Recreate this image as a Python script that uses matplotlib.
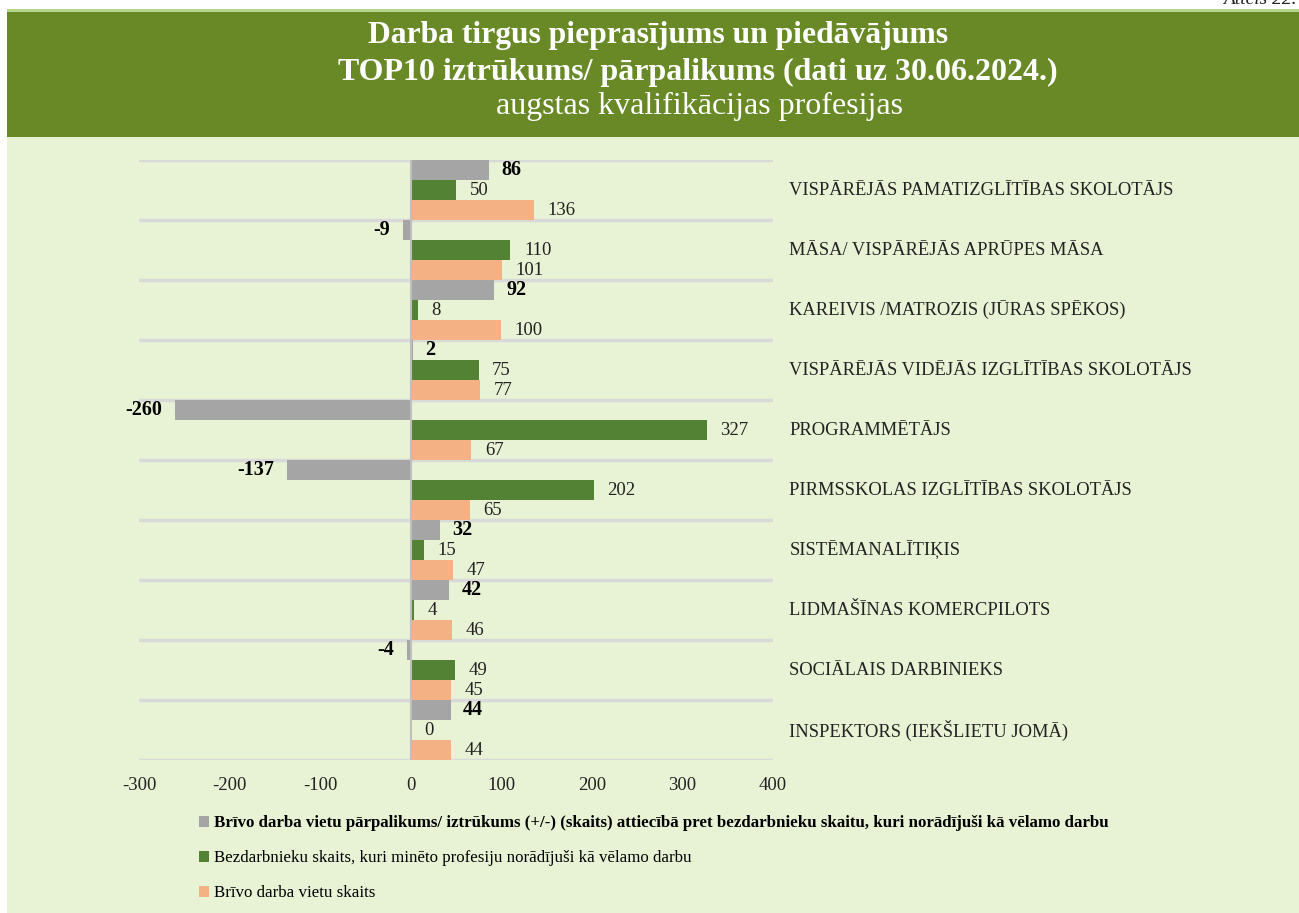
import numpy as np
import matplotlib.pyplot as plt
from matplotlib.patches import Rectangle

plt.rcParams['font.family'] = ['Liberation Serif', 'DejaVu Serif']

professions = ['VISPĀRĒJĀS PAMATIZGLĪTĪBAS SKOLOTĀJS',
               'MĀSA/ VISPĀRĒJĀS APRŪPES MĀSA',
               'KAREIVIS /MATROZIS (JŪRAS SPĒKOS)',
               'VISPĀRĒJĀS VIDĒJĀS IZGLĪTĪBAS SKOLOTĀJS',
               'PROGRAMMĒTĀJS',
               'PIRMSSKOLAS IZGLĪTĪBAS SKOLOTĀJS',
               'SISTĒMANALĪTIĶIS',
               'LIDMAŠĪNAS KOMERCPILOTS',
               'SOCIĀLAIS DARBINIEKS',
               'INSPEKTORS (IEKŠLIETU JOMĀ)']
balance = [86, -9, 92, 2, -260, -137, 32, 42, -4, 44]
unemployed = [50, 110, 8, 75, 327, 202, 15, 4, 49, 0]
vacancies = [136, 101, 100, 77, 67, 65, 47, 46, 45, 44]
ticks = [-300, -200, -100, 0, 100, 200, 300, 400]

lbl_balance = 'Brīvo darba vietu pārpalikums/ iztrūkums (+/-) (skaits) attiecībā pret bezdarbnieku skaitu, kuri norādījuši kā vēlamo darbu'
lbl_unemp = 'Bezdarbnieku skaits, kuri minēto profesiju norādījuši kā vēlamo darbu'
lbl_vac = 'Brīvo darba vietu skaits'

c_gray = '#A5A5A5'
c_green = '#548235'
c_orange = '#F4B183'
bg = '#E8F2D5'
banner = '#688925'

fig = plt.figure(figsize=(12.99, 9.13), dpi=100)
fig.patch.set_facecolor('white')

# backgrounds
fig.add_artist(Rectangle((7/1299, 0), 1, 1 - 137/913, transform=fig.transFigure,
                         facecolor=bg, edgecolor='none', zorder=0))
fig.add_artist(Rectangle((7/1299, 1 - 137/913), 1, (137-12)/913, transform=fig.transFigure,
                         facecolor=banner, edgecolor='none', zorder=0))
fig.add_artist(Rectangle((7/1299, 1 - 12/913), 1, 3/913, transform=fig.transFigure,
                         facecolor='#B5D58A', edgecolor='none', zorder=0))

fig.text(658/1299, 1 - 36/913, 'Darba tirgus pieprasījums un piedāvājums', color='white',
         fontsize=22.8, fontweight='bold', ha='center', va='center')
fig.text(698/1299, 1 - 72/913, 'TOP10 iztrūkums/ pārpalikums (dati uz 30.06.2024.)', color='white',
         fontsize=23, fontweight='bold', ha='center', va='center')
fig.text(700/1299, 1 - 106/913, 'augstas kvalifikācijas profesijas', color='white',
         fontsize=23, ha='center', va='center')
fig.text(0.998, 1 + 1/913, 'Attēls 22.', color='#222222', fontsize=14, style='italic',
         ha='right', va='center')

ax = fig.add_axes([139/1299, 1 - 760/913, 634/1299, 600/913])
ax.patch.set_alpha(0)
y = np.arange(len(professions))
h = 1/3
ax.barh(y - h, balance, height=h, color=c_gray, label=lbl_balance, zorder=2)
ax.barh(y, unemployed, height=h, color=c_green, label=lbl_unemp, zorder=2)
ax.barh(y + h, vacancies, height=h, color=c_orange, label=lbl_vac, zorder=2)

for i in range(len(professions)):
    b = balance[i]
    if b >= 0:
        ax.text(b + 14, y[i] - h, str(b), fontsize=14.5, fontweight='bold', ha='left', va='center')
    else:
        ax.text(b - 14, y[i] - h, str(b), fontsize=14.5, fontweight='bold', ha='right', va='center')
    ax.text(unemployed[i] + 15, y[i], str(unemployed[i]), fontsize=13.5, ha='left', va='center',
            color='#222222')
    ax.text(vacancies[i] + 15, y[i] + h, str(vacancies[i]), fontsize=13.5, ha='left', va='center',
            color='#222222')
    ax.text(418, y[i], professions[i], fontsize=13.3, ha='left', va='center', color='#222222')

for s in np.arange(-0.5, len(professions), 1):
    ax.axhline(s, color='#D9D9D9', lw=2.5, zorder=1)
ax.axvline(0, color='#BFBFBF', lw=1.5, zorder=3)

ax.set_xlim(-300, 400)
ax.set_ylim(len(professions) - 0.5, -0.5)
ax.set_xticks(ticks)
ax.set_xticklabels([str(t) for t in ticks], fontsize=13.5, color='#222222')
ax.set_yticks([])
ax.tick_params(axis='x', length=0, pad=12)
for sp in ax.spines.values():
    sp.set_visible(False)

leg = fig.legend(loc='upper left', bbox_to_anchor=(184/1299, 1 - 800/913), frameon=False,
                 fontsize=12.2, handlelength=0.6, handleheight=0.6, handletextpad=0.3,
                 labelspacing=1.12)
leg.get_texts()[0].set_fontweight('bold')

fig.savefig('out.png', dpi=100)
